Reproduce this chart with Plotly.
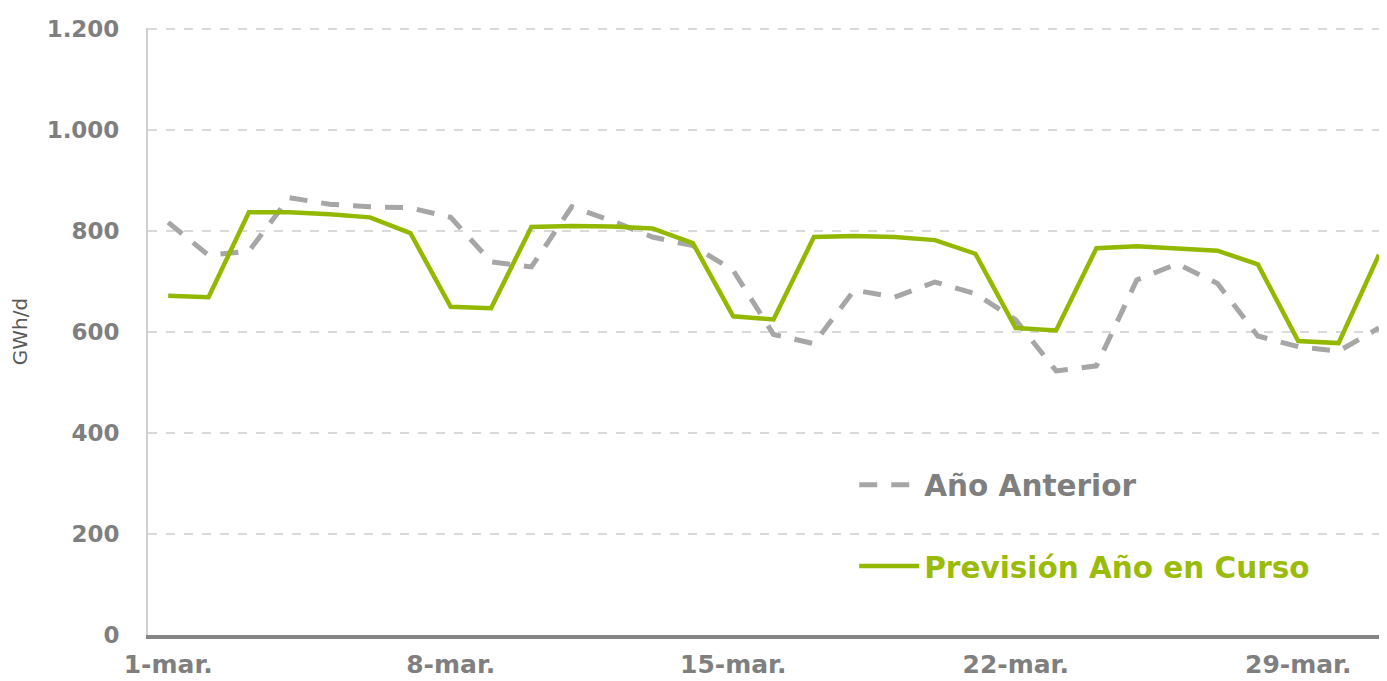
import plotly.graph_objects as go

days = list(range(1, 32))
anio_anterior = [817, 752, 760, 866, 853, 848, 846, 827, 739, 729,
                 848, 820, 788, 771, 722, 595, 577, 683, 669, 699,
                 676, 624, 523, 533, 703, 735, 696, 592, 571, 562, 608]
prevision = [672, 669, 837, 837, 833, 827, 796, 650, 647, 808,
             810, 809, 805, 776, 631, 625, 788, 790, 788, 782,
             755, 608, 603, 766, 770, 766, 761, 734, 582, 578, 753]
tick_days = [1, 8, 15, 22, 29]
tick_labels = ["1-mar.", "8-mar.", "15-mar.", "22-mar.", "29-mar."]
y_ticks = [0, 200, 400, 600, 800, 1000, 1200]
y_labels = ["0", "200", "400", "600", "800", "1.000", "1.200"]

GREEN = "#93b800"
GREY_LINE = "#a6a6a6"
TXT = "#7f7f7f"
FONT = "DejaVu Sans"

fig = go.Figure()
fig.add_trace(go.Scatter(
    x=days, y=anio_anterior, mode="lines", name="Año Anterior",
    legendgroup="a",
    line=dict(color=GREY_LINE, width=5, dash="18px,14px"),
))
fig.add_trace(go.Scatter(
    x=days, y=prevision, mode="lines",
    name="<span style='color:#9bbb0a'>Previsión Año en Curso</span>",
    legendgroup="b",
    line=dict(color=GREEN, width=4.5),
))

fig.update_layout(
    width=1387, height=681,
    margin=dict(l=140, r=8, t=14, b=54),
    paper_bgcolor="white", plot_bgcolor="white",
    showlegend=True,
    legend=dict(
        x=0.570, y=0.290, xanchor="left", yanchor="top",
        bgcolor="rgba(0,0,0,0)",
        font=dict(family=FONT, size=29.5, color=TXT, weight="bold"),
        traceorder="grouped", tracegroupgap=40,
        itemwidth=60,
    ),
    xaxis=dict(
        range=[0.5, 31.2],
        tickmode="array", tickvals=tick_days, ticktext=tick_labels,
        tickfont=dict(family=FONT, size=25, color=TXT, weight="bold"),
        showgrid=False, zeroline=False,
        showline=True, linecolor="#858585", linewidth=3.5,
        ticks="outside", ticklen=4, tickcolor="rgba(0,0,0,0)",
    ),
    yaxis=dict(
        range=[0, 1202],
        tickmode="array", tickvals=y_ticks, ticktext=y_labels,
        tickfont=dict(family=FONT, size=23, color=TXT, weight="bold"),
        ticklabeloverflow="allow",
        showgrid=True, gridcolor="#d9d9d9", griddash="dash", gridwidth=1.5,
        zeroline=False,
        showline=True, linecolor="#cfcfcf", linewidth=2,
        ticks="outside", ticklen=22, tickcolor="rgba(0,0,0,0)",
        title=dict(text="GWh/d", font=dict(family=FONT, size=20, color="#595959"),
                   standoff=16),
    ),
)

fig.write_html("out.html")
